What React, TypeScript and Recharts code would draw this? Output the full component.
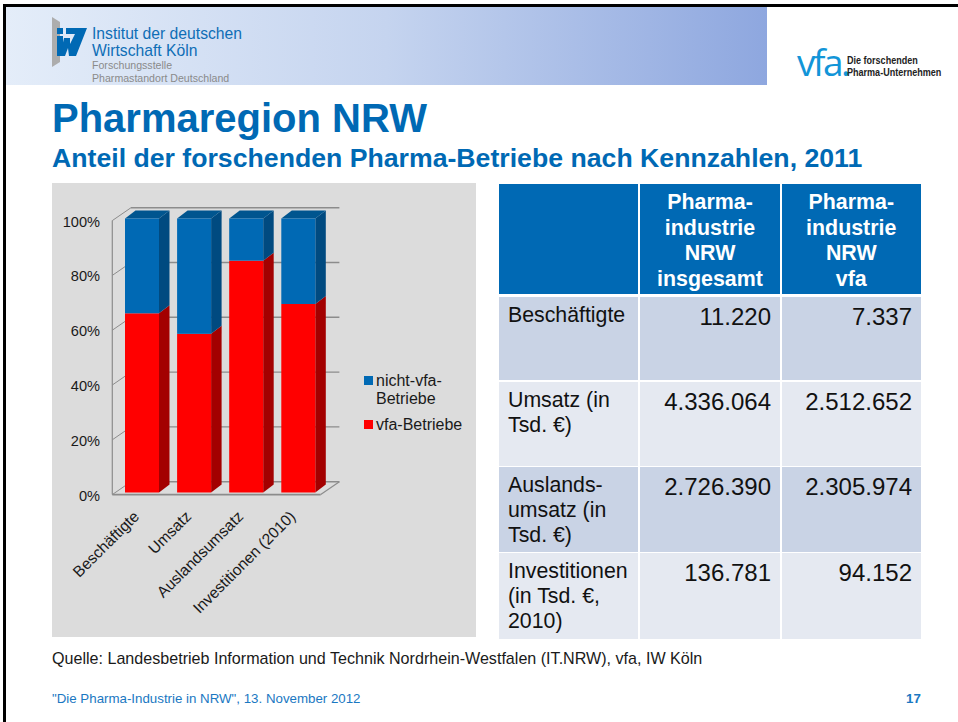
import React from "react";
import { BarChart, Bar, XAxis, YAxis, CartesianGrid, Legend, usePlotArea } from "recharts";

const categories = ["Beschäftigte", "Umsatz", "Auslandsumsatz", "Investitionen (2010)"];
const vfaBetriebe = [65.4, 57.9, 84.6, 68.8];
const nichtVfaBetriebe = [34.6, 42.1, 15.4, 31.2];
const yTicks = [0, 20, 40, 60, 80, 100];

const tableHeader = ["", "Pharma-\nindustrie\nNRW\ninsgesamt", "Pharma-\nindustrie\nNRW\nvfa"];
const rowLabels = ["Beschäftigte", "Umsatz (in\nTsd. €)", "Auslands-\numsatz (in\nTsd. €)", "Investitionen\n(in Tsd. €,\n2010)"];
const totalValues = ["11.220", "4.336.064", "2.726.390", "136.781"];
const vfaValues = ["7.337", "2.512.652", "2.305.974", "94.152"];

const chartData = categories.map((name, i) => ({ name, vfa: vfaBetriebe[i], nicht: nichtVfaBetriebe[i] }));

const FONT = "'Liberation Sans', Arial, sans-serif";
const BLUE = "#0069b4";
const GRID = "#8c8c8c";

const BAR_DX = 10.5;
const BAR_DY = 8;
const WALL_DX = 15;
const WALL_DY = 10.8;
const FRONT_DX = -3.7;
const FRONT_DY = 2.1;

const Bar3D = (p: any) => {
  const { x, y, width, height, fill, side, top } = p;
  return (
    <g>
      <polygon
        points={`${x + width},${y} ${x + width + BAR_DX},${y - BAR_DY} ${x + width + BAR_DX},${y + height - BAR_DY} ${x + width},${y + height}`}
        fill={side}
      />
      {top && (
        <polygon
          points={`${x},${y} ${x + BAR_DX},${y - BAR_DY} ${x + width + BAR_DX},${y - BAR_DY} ${x + width},${y}`}
          fill={top}
        />
      )}
      <rect x={x} y={y} width={width} height={height} fill={fill} />
    </g>
  );
};

const GridLine = (p: any) => {
  const { x1, x2, y1 } = p;
  return (
    <g key={p.key}>
      <line x1={x1 + FRONT_DX} y1={y1 + FRONT_DY} x2={x1 + WALL_DX} y2={y1 - WALL_DY} stroke={GRID} strokeWidth={1} />
      <line x1={x1 + WALL_DX} y1={y1 - WALL_DY} x2={x2 + WALL_DX} y2={y1 - WALL_DY} stroke={GRID} strokeWidth={1.4} />
    </g>
  );
};

const Frame = () => {
  const a: any = usePlotArea();
  if (!a) return null;
  const l = a.x;
  const b = a.y + a.height;
  const r = a.x + a.width;
  return (
    <g>
      <line x1={l + FRONT_DX} y1={a.y + FRONT_DY} x2={l + FRONT_DX} y2={b + FRONT_DY} stroke={GRID} strokeWidth={1.2} />
      <line x1={l + FRONT_DX} y1={b + FRONT_DY} x2={r + FRONT_DX} y2={b + FRONT_DY} stroke={GRID} strokeWidth={1.6} />
      <line x1={r + FRONT_DX} y1={b + FRONT_DY} x2={r + WALL_DX} y2={b - WALL_DY} stroke={GRID} strokeWidth={1.2} />
    </g>
  );
};

const YTick = (p: any) => (
  <text x={p.x} y={p.y + 8} textAnchor="end" fontFamily={FONT} fontSize={14.6} fill="#1a1a1a">
    {p.payload.value}%
  </text>
);

const XTick = (p: any) => (
  <text
    transform={`translate(${p.x - 2},${p.y + 23}) rotate(-45)`}
    textAnchor="end"
    fontFamily={FONT}
    fontSize={15.6}
    fill="#1a1a1a"
  >
    {p.payload.value}
  </text>
);

const LegendBox = () => (
  <div style={{ fontFamily: FONT, fontSize: 16, lineHeight: "18px", color: "#1a1a1a", marginTop: 1 }}>
    <div style={{ position: "relative", paddingLeft: 12, height: 44, whiteSpace: "nowrap" }}>
      <span style={{ position: "absolute", left: 0, top: 4, width: 9, height: 9, background: BLUE }} />
      nicht-vfa-
      <br />
      Betriebe
    </div>
    <div style={{ position: "relative", paddingLeft: 12, whiteSpace: "nowrap" }}>
      <span style={{ position: "absolute", left: 0, top: 4, width: 9, height: 9, background: "#ff0000" }} />
      vfa-Betriebe
    </div>
  </div>
);

const abs = (left: number, top: number, extra: React.CSSProperties = {}): React.CSSProperties => ({
  position: "absolute",
  left,
  top,
  whiteSpace: "nowrap",
  fontFamily: FONT,
  ...extra,
});

const ROW_H = [109.5, 83, 84, 84.5, 85.5];
const ROW_Y = [184, 297, 381.5, 467, 553];
const COL_X = [499, 640, 781.5];
const COL_W = [139, 140, 139.5];

const Cell = (p: { r: number; c: number; bg: string; style: React.CSSProperties; text: string }) => (
  <div
    style={{
      position: "absolute",
      left: COL_X[p.c],
      top: ROW_Y[p.r],
      width: COL_W[p.c],
      height: ROW_H[p.r],
      background: p.bg,
      boxSizing: "border-box",
      fontFamily: FONT,
      whiteSpace: "pre",
      ...p.style,
    }}
  >
    {p.text}
  </div>
);

const IwLogo = () => (
  <svg style={{ position: "absolute", left: 48, top: 12 }} width={44} height={60}>
    <polygon points="4,5 12,10 12,50 4,55" fill="#adadad" />
    <rect x={9} y={16} width={6} height={6} fill={BLUE} />
    <polygon points="9,24 15,24 15,44 9,44" fill={BLUE} />
    <polygon points="18,16 39,16 28,44 21,44 20,36 17,44 12,44 16,26 22,26 22,32 27,22 18,22" fill={BLUE} />
  </svg>
);

export default function App() {
  const rowBg = ["#c9d3e5", "#e5e9f1", "#c9d3e5", "#e5e9f1"];
  const headStyle: React.CSSProperties = {
    color: "#fff",
    fontWeight: 700,
    fontSize: 21.4,
    lineHeight: "25.5px",
    textAlign: "center",
    paddingTop: 6,
  };
  const labelStyle: React.CSSProperties = { color: "#111", fontSize: 21.3, lineHeight: "25px", paddingLeft: 9, paddingTop: 6 };
  const numStyle: React.CSSProperties = { color: "#111", fontSize: 24, lineHeight: "25px", textAlign: "right", paddingRight: 9, paddingTop: 7 };
  return (
    <div style={{ position: "absolute", left: 0, top: 0, width: 958, height: 722, background: "#fff", overflow: "hidden" }}>
      <div style={{ position: "absolute", left: 3, top: 4, width: 955, height: 3, background: "#000" }} />
      <div style={{ position: "absolute", left: 3, top: 4, width: 3, height: 718, background: "#000" }} />
      <div
        style={{
          position: "absolute",
          left: 6,
          top: 7,
          width: 761,
          height: 77.5,
          background: "linear-gradient(90deg, #e4edf9 0%, #c5d4ef 50%, #8ea7df 100%)",
        }}
      />
      <IwLogo />
      <div style={abs(92, 25, { fontSize: 15.7, lineHeight: "17px", color: "#0f6eb6" })}>
        Institut der deutschen
        <br />
        Wirtschaft Köln
      </div>
      <div style={abs(92, 59, { fontSize: 10.6, lineHeight: "13px", color: "#8a8a8a" })}>
        Forschungsstelle
        <br />
        Pharmastandort Deutschland
      </div>
      <div style={abs(797, 42, { fontSize: 37, lineHeight: "40px", color: "#1295d8", fontFamily: "'Open Sans', sans-serif", fontWeight: 400, letterSpacing: -2.5 })}>
        vfa.
      </div>
      <div style={abs(847, 54, { fontSize: 10.5, lineHeight: "12px", color: "#222", fontWeight: 700, transform: "scaleX(0.86)", transformOrigin: "left top" })}>
        Die forschenden
        <br />
        Pharma-Unternehmen
      </div>
      <div style={abs(52, 96, { fontSize: 40, lineHeight: "44px", fontWeight: 700, color: BLUE })}>Pharmaregion NRW</div>
      <div style={abs(52, 143, { fontSize: 26.66, lineHeight: "30px", fontWeight: 700, color: BLUE })}>
        Anteil der forschenden Pharma-Betriebe nach Kennzahlen, 2011
      </div>

      <div style={{ position: "absolute", left: 52, top: 183, width: 424, height: 454, background: "#dcdcdc" }}>
        <BarChart
          width={424}
          height={454}
          data={chartData}
          margin={{ top: 35.5, left: 4, right: 39.6, bottom: 84.5 }}
          barSize={34}
          style={{ position: "absolute", left: 0, top: 0 }}
        >
          <CartesianGrid vertical={false} horizontal={GridLine as any} />
          <Frame />
          <XAxis dataKey="name" axisLine={false} tickLine={false} tickSize={0} height={60} interval={0} tick={XTick as any} />
          <YAxis
            domain={[0, 100]}
            ticks={yTicks}
            width={60}
            axisLine={false}
            tickLine={false}
            tickSize={0}
            tickMargin={16}
            tick={YTick as any}
          />
          <Legend
            layout="vertical"
            align="right"
            verticalAlign="middle"
            width={112}
            content={LegendBox as any}
            wrapperStyle={{ left: 312, top: 188 }}
          />
          <Bar
            dataKey="vfa"
            name="vfa-Betriebe"
            stackId="a"
            fill="#ff0000"
            isAnimationActive={false}
            shape={(p: any) => <Bar3D {...p} side="#a30000" />}
          />
          <Bar
            dataKey="nicht"
            name="nicht-vfa-Betriebe"
            stackId="a"
            fill={BLUE}
            isAnimationActive={false}
            shape={(p: any) => <Bar3D {...p} side="#004a80" top="#00558f" />}
          />
        </BarChart>
      </div>

      {tableHeader.map((t, c) => (
        <Cell key={`h${c}`} r={0} c={c} bg={BLUE} style={headStyle} text={t} />
      ))}
      {rowLabels.map((t, i) => (
        <React.Fragment key={t}>
          <Cell r={i + 1} c={0} bg={rowBg[i]} style={labelStyle} text={t} />
          <Cell r={i + 1} c={1} bg={rowBg[i]} style={numStyle} text={totalValues[i]} />
          <Cell r={i + 1} c={2} bg={rowBg[i]} style={numStyle} text={vfaValues[i]} />
        </React.Fragment>
      ))}

      <div style={abs(52, 649, { fontSize: 16.1, lineHeight: "18px", color: "#1a1a1a" })}>
        Quelle: Landesbetrieb Information und Technik Nordrhein-Westfalen (IT.NRW), vfa, IW Köln
      </div>
      <div style={abs(52, 691, { fontSize: 13.3, lineHeight: "15px", color: "#1a78c2" })}>
        "Die Pharma-Industrie in NRW", 13. November 2012
      </div>
      <div style={abs(906, 691, { fontSize: 13.3, lineHeight: "15px", fontWeight: 700, color: "#1a78c2" })}>17</div>
    </div>
  );
}
